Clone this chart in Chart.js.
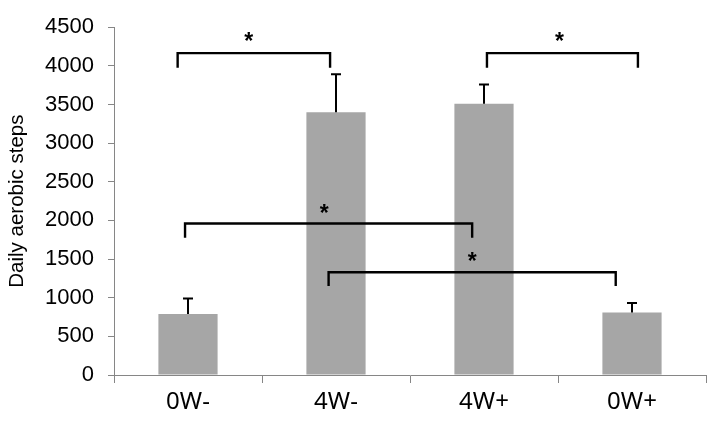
<!DOCTYPE html>
<html>
<head>
<meta charset="utf-8">
<script src="https://cdn.jsdelivr.net/npm/chart.js@4.4.0/dist/chart.umd.min.js"></script>
<style>
  html, body { margin: 0; padding: 0; background: #fff; }
  #wrap { width: 715px; height: 426px; }
</style>
</head>
<body>
<div id="wrap"><canvas id="stepsChart"></canvas></div>
<script>
var categories = ['0W-', '4W-', '4W+', '0W+'];
var steps = [790, 3400, 3510, 810];
var stepsSD = [200, 490, 250, 120];

// significance brackets, in category index / step units
var bracketStart = [-0.07, -0.02, 0.95, 2.02];
var bracketEnd = [0.96, 1.92, 2.89, 3.04];
var bracketTop = [4165, 1960, 1330, 4165];
var bracketFoot = [3975, 1775, 1150, 3975];
var starX = [0.41, 0.92, 1.92, 2.51];
var starY = [4385, 2155, 1545, 4385];

var axisGray = '#868686';

var annotations = {
    id: 'annotations',
    afterDatasetsDraw: function (chart) {
        var ctx = chart.ctx;
        var x = chart.scales.x, y = chart.scales.y;
        ctx.save();
        ctx.strokeStyle = '#000';
        ctx.lineWidth = 2;
        // error bars (upper only)
        var meta = chart.getDatasetMeta(0);
        meta.data.forEach(function (bar, i) {
            var top = y.getPixelForValue(steps[i] + stepsSD[i]);
            ctx.beginPath();
            ctx.moveTo(bar.x, bar.y);
            ctx.lineTo(bar.x, top);
            ctx.moveTo(bar.x - 5, top);
            ctx.lineTo(bar.x + 5, top);
            ctx.stroke();
        });
        // brackets
        ctx.lineWidth = 2.4;
        for (var i = 0; i < bracketStart.length; i++) {
            var x1 = x.getPixelForValue(bracketStart[i]);
            var x2 = x.getPixelForValue(bracketEnd[i]);
            var yt = y.getPixelForValue(bracketTop[i]);
            var yf = y.getPixelForValue(bracketFoot[i]);
            ctx.beginPath();
            ctx.moveTo(x1, yf);
            ctx.lineTo(x1, yt);
            ctx.lineTo(x2, yt);
            ctx.lineTo(x2, yf);
            ctx.stroke();
        }
        // asterisks
        ctx.fillStyle = '#000';
        ctx.font = 'bold 23px "Liberation Sans", Arial, sans-serif';
        ctx.textAlign = 'center';
        ctx.textBaseline = 'alphabetic';
        for (var j = 0; j < starX.length; j++) {
            ctx.fillText('*', x.getPixelForValue(starX[j]), y.getPixelForValue(starY[j]) + 13);
        }
        ctx.restore();
    }
};

var ctx = document.getElementById('stepsChart').getContext('2d');
var stepsChart = new Chart(ctx, {
    type: 'bar',
    data: {
        labels: categories,
        datasets: [{
            label: 'Daily aerobic steps',
            data: steps,
            backgroundColor: '#a6a6a6',
            borderWidth: 0,
            barPercentage: 0.4,
            categoryPercentage: 1.0
        }]
    },
    options: {
        responsive: true,
        maintainAspectRatio: false,
        animation: false,
        layout: { padding: { left: 0, right: 9, top: 17, bottom: 0 } },
        plugins: {
            legend: { display: false },
            tooltip: { enabled: false }
        },
        scales: {
            x: {
                afterFit: function (scale) { scale.height = 51; },
                grid: { offset: true, drawOnChartArea: false, tickLength: 8, color: axisGray },
                border: { color: axisGray, width: 1 },
                ticks: {
                    color: '#000',
                    padding: 5,
                    font: { family: '"Noto Sans", "Open Sans", sans-serif', size: 24 }
                }
            },
            y: {
                min: 0,
                max: 4500,
                afterFit: function (scale) { scale.width = 114; },
                grid: { drawOnChartArea: false, tickLength: 6, color: axisGray },
                border: { color: axisGray, width: 1 },
                ticks: {
                    stepSize: 500,
                    color: '#000',
                    padding: 14,
                    font: { family: '"Liberation Sans", Arial, sans-serif', size: 22 },
                    callback: function (value) { return String(value); }
                },
                title: {
                    display: true,
                    text: 'Daily aerobic steps',
                    color: '#000',
                    padding: { top: 5, bottom: 4 },
                    font: { family: '"Liberation Sans", Arial, sans-serif', size: 20.5 }
                }
            }
        }
    },
    plugins: [annotations]
});
</script>
</body>
</html>
